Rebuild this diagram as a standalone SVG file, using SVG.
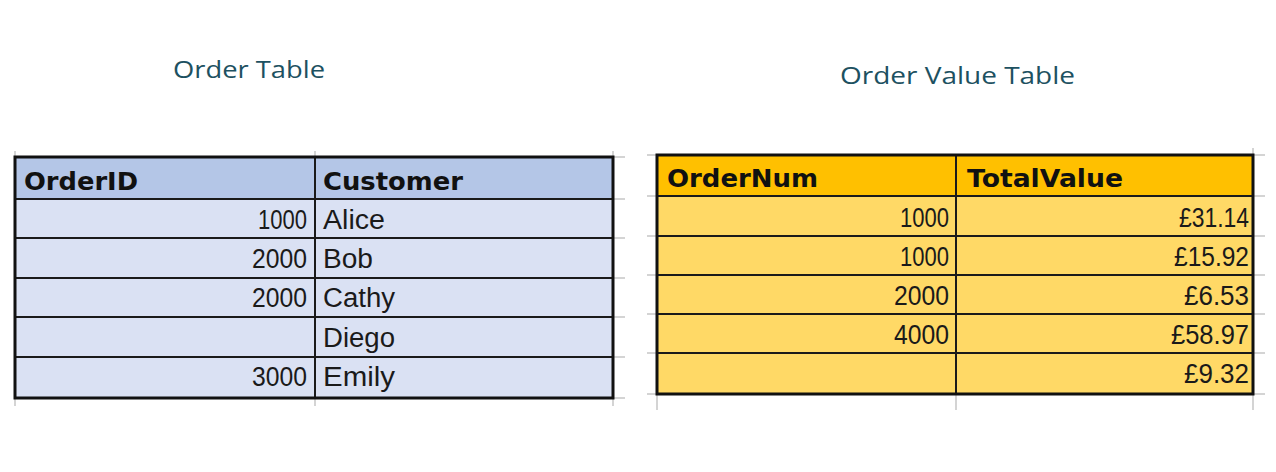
<svg xmlns="http://www.w3.org/2000/svg" width="1276" height="472" viewBox="0 0 1276 472">
<style>
.title{font-family:"Open Sans","Liberation Sans",sans-serif;font-size:23px;fill:#1d5161}
.h{font-family:"DejaVu Sans","Liberation Sans",sans-serif;font-weight:bold;font-size:24px;fill:#111}
.c{font-family:"Liberation Sans","DejaVu Sans",sans-serif;font-size:27px;fill:#1a1a1a}
.r{text-anchor:end}
.grid{stroke:#d4d4d4;stroke-width:2;fill:none}
.inner{stroke:#1a1a1a;stroke-width:2;fill:none}
.outer{stroke:#111;stroke-width:3;fill:none}
</style>
<rect width="1276" height="472" fill="#ffffff"/>
<g id="title-order">
<text class="title" x="173" y="78" textLength="152" lengthAdjust="spacingAndGlyphs">Order Table</text>
</g>
<g id="title-order-value">
<text class="title" x="840" y="84" textLength="235" lengthAdjust="spacingAndGlyphs">Order Value Table</text>
</g>
<g id="order-table">
<path class="grid" d="M15 151V406M315 151V406M613 151V406M613 157H625M613 199H625M613 238H625M613 278H625M613 317H625M613 357H625M613 398H625"/>
<rect x="15" y="157" width="598" height="42" fill="#b4c6e7"/>
<rect x="15" y="199" width="598" height="199" fill="#dae1f3"/>
<path class="inner" d="M15 199H613M15 238H613M15 278H613M15 317H613M15 357H613M315 157V398"/>
<rect class="outer" x="15" y="157" width="598" height="241"/>
<text class="h" x="24" y="190" textLength="114" lengthAdjust="spacingAndGlyphs">OrderID</text>
<text class="h" x="323" y="190" textLength="140" lengthAdjust="spacingAndGlyphs">Customer</text>
<text class="c r" x="307" y="229" textLength="49" lengthAdjust="spacingAndGlyphs">1000</text>
<text class="c r" x="307" y="268" textLength="55" lengthAdjust="spacingAndGlyphs">2000</text>
<text class="c r" x="307" y="307" textLength="55" lengthAdjust="spacingAndGlyphs">2000</text>
<text class="c r" x="307" y="386" textLength="55" lengthAdjust="spacingAndGlyphs">3000</text>
<text class="c" x="323" y="229" textLength="62" lengthAdjust="spacingAndGlyphs">Alice</text>
<text class="c" x="323" y="268" textLength="50" lengthAdjust="spacingAndGlyphs">Bob</text>
<text class="c" x="323" y="307" textLength="72" lengthAdjust="spacingAndGlyphs">Cathy</text>
<text class="c" x="323" y="347" textLength="72" lengthAdjust="spacingAndGlyphs">Diego</text>
<text class="c" x="323" y="386" textLength="72" lengthAdjust="spacingAndGlyphs">Emily</text>
</g>
<g id="order-value-table">
<path class="grid" d="M657 393V410M956 393V410M1253 148V410M647 155H657M647 196H657M647 236H657M647 275H657M647 314H657M647 353H657M647 394H657M1253 155H1265M1253 196H1265M1253 236H1265M1253 275H1265M1253 314H1265M1253 353H1265M1253 394H1265"/>
<rect x="657" y="155" width="596" height="41" fill="#ffc000"/>
<rect x="657" y="196" width="596" height="198" fill="#ffd966"/>
<path class="inner" d="M657 196H1253M657 236H1253M657 275H1253M657 314H1253M657 353H1253M956 155V394"/>
<rect class="outer" x="657" y="155" width="596" height="239"/>
<text class="h" x="667" y="187" textLength="151" lengthAdjust="spacingAndGlyphs">OrderNum</text>
<text class="h" x="967" y="187" textLength="156" lengthAdjust="spacingAndGlyphs">TotalValue</text>
<text class="c r" x="949" y="227" textLength="49" lengthAdjust="spacingAndGlyphs">1000</text>
<text class="c r" x="949" y="266" textLength="49" lengthAdjust="spacingAndGlyphs">1000</text>
<text class="c r" x="949" y="305" textLength="55" lengthAdjust="spacingAndGlyphs">2000</text>
<text class="c r" x="949" y="344" textLength="55" lengthAdjust="spacingAndGlyphs">4000</text>
<text class="c r" x="1249" y="227" textLength="70" lengthAdjust="spacingAndGlyphs">£31.14</text>
<text class="c r" x="1249" y="266" textLength="75" lengthAdjust="spacingAndGlyphs">£15.92</text>
<text class="c r" x="1249" y="305" textLength="65" lengthAdjust="spacingAndGlyphs">£6.53</text>
<text class="c r" x="1249" y="344" textLength="78" lengthAdjust="spacingAndGlyphs">£58.97</text>
<text class="c r" x="1249" y="383" textLength="65" lengthAdjust="spacingAndGlyphs">£9.32</text>
</g>
</svg>
